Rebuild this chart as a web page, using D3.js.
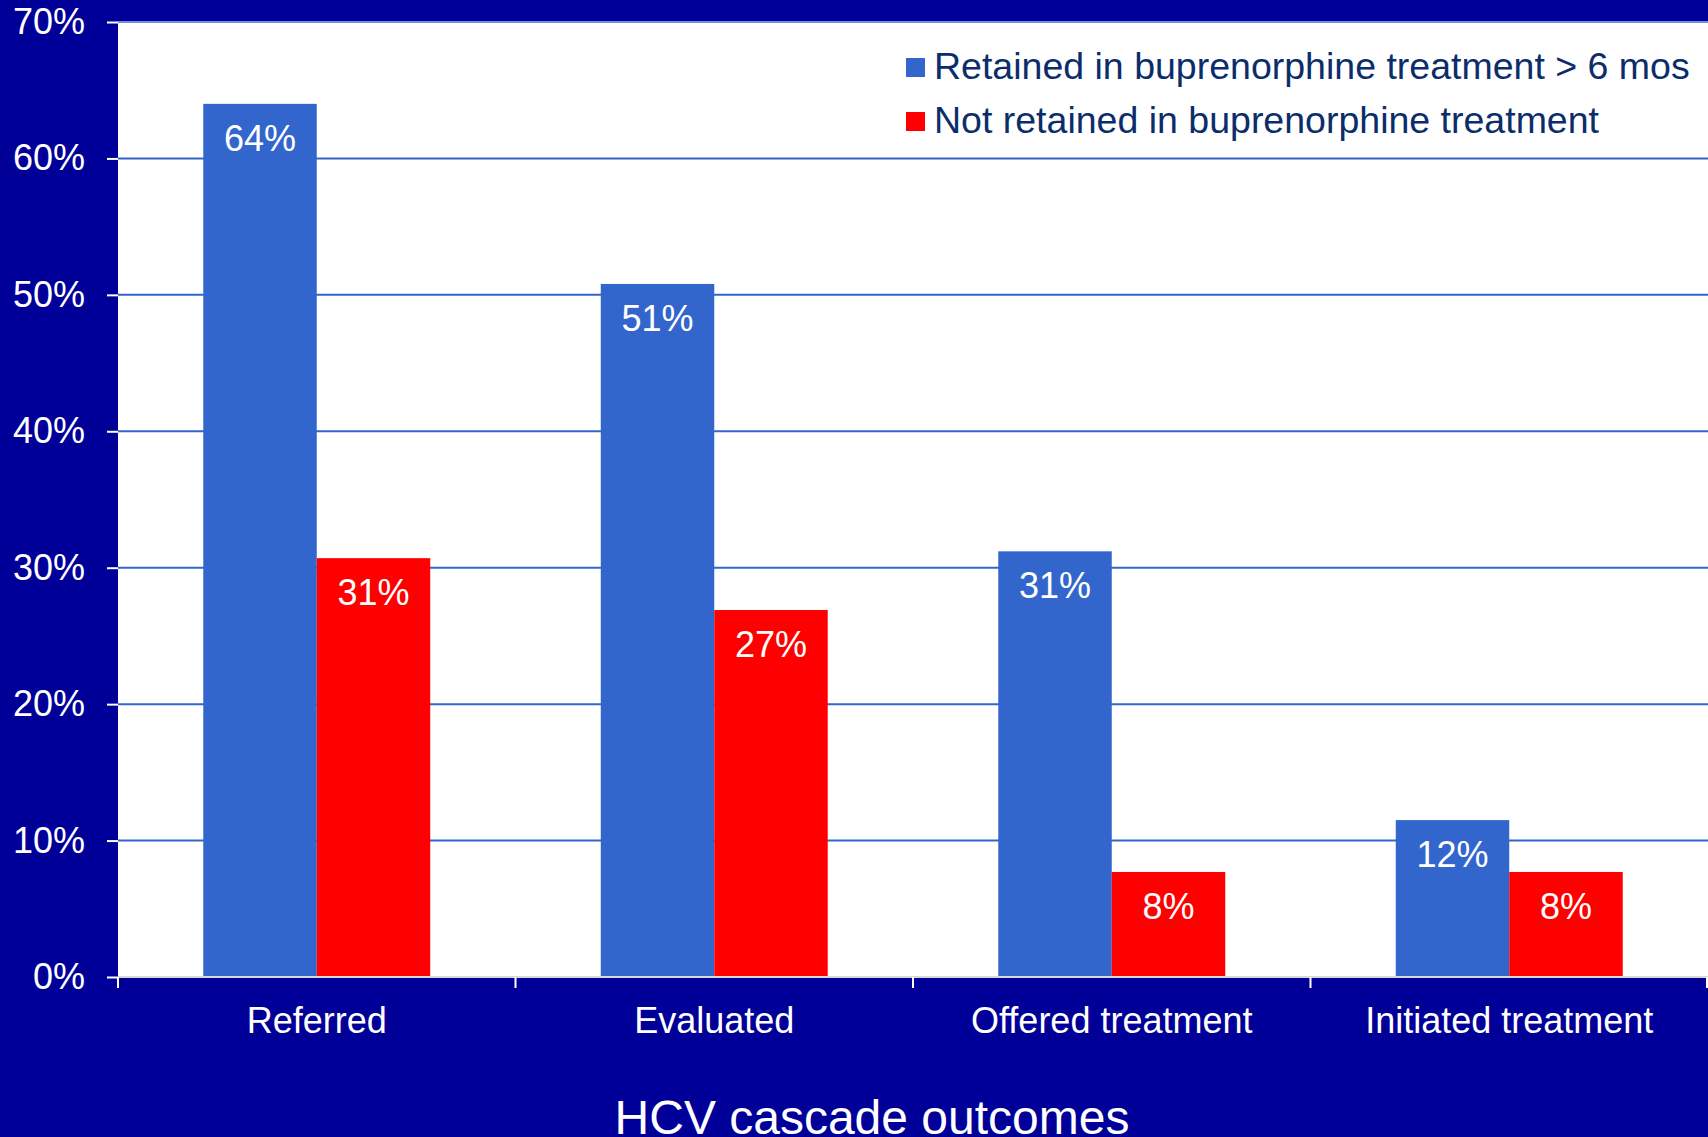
<!DOCTYPE html>
<html>
<head>
<meta charset="utf-8">
<script src="https://cdn.jsdelivr.net/npm/d3@7"></script>
<style>
  body { margin: 0; background: #000099; }
  svg { display: block; font-family: 'Liberation Sans', Arial, sans-serif; }
  .axis text { fill: #fff; font-size: 36px; font-family: 'Liberation Sans', Arial, sans-serif; }
  .axis path { display: none; }
  .axis line { stroke: #fff; stroke-width: 2; }
  .grid line { stroke: #3366cc; stroke-width: 2; }
</style>
</head>
<body>
<svg id="chart_svg"></svg>
<script>
var categories = ['Referred', 'Evaluated', 'Offered treatment', 'Initiated treatment'];
var seriesNames = ['Retained in buprenorphine treatment > 6 mos', 'Not retained in buprenorphine treatment'];
var retained = [64, 50.8, 31.2, 11.5];
var notRetained = [30.7, 26.9, 7.7, 7.7];
var yTicks = [0, 10, 20, 30, 40, 50, 60, 70];
var colors = ['#3366cc', '#ff0000'];

var fullWidth = 1708, fullHeight = 1137;
var margin = {top: 22, right: 0, bottom: 160, left: 118};
var width = fullWidth - margin.left - margin.right;
var height = fullHeight - margin.top - margin.bottom;

var data = categories.map(function(c, i) {
  return {cat: c, values: [retained[i], notRetained[i]]};
});

var svg = d3.select('#chart_svg')
  .attr('width', fullWidth)
  .attr('height', fullHeight);

svg.append('rect')
  .attr('width', fullWidth)
  .attr('height', fullHeight)
  .style('fill', '#000099');

var g = svg.append('g')
  .attr('transform', 'translate(' + margin.left + ',' + margin.top + ')');

var x = d3.scaleBand()
  .domain(categories)
  .range([0, width])
  .padding(0);

var groupWidth = x.bandwidth() * 0.571;

var x1 = d3.scaleBand()
  .domain([0, 1])
  .range([0, groupWidth]);

var y = d3.scaleLinear()
  .domain([0, 70])
  .range([height, 0]);

// plot background
g.append('rect')
  .attr('width', width)
  .attr('height', height)
  .style('fill', '#fff');

// top border
g.append('line')
  .attr('x1', 0)
  .attr('x2', width)
  .attr('y1', y(70))
  .attr('y2', y(70))
  .style('stroke', '#6f8fe0')
  .style('stroke-width', 2);

g.append('g')
  .attr('class', 'grid')
  .selectAll('line')
  .data(yTicks.filter(function(t) { return t > 0 && t < 70; }))
  .enter()
  .append('line')
  .attr('x1', 0)
  .attr('x2', width)
  .attr('y1', function(d) { return y(d); })
  .attr('y2', function(d) { return y(d); });

var groups = g.selectAll('.group')
  .data(data)
  .enter()
  .append('g')
  .attr('class', 'group')
  .attr('transform', function(d) {
    return 'translate(' + (x(d.cat) + (x.bandwidth() - groupWidth) / 2) + ',0)';
  });

groups.selectAll('rect')
  .data(function(d) { return d.values; })
  .enter()
  .append('rect')
  .attr('x', function(d, i) { return x1(i); })
  .attr('y', function(d) { return y(d); })
  .attr('width', x1.bandwidth())
  .attr('height', function(d) { return height - y(d); })
  .style('fill', function(d, i) { return colors[i]; });

groups.selectAll('.val')
  .data(function(d) { return d.values; })
  .enter()
  .append('text')
  .attr('class', 'val')
  .attr('x', function(d, i) { return x1(i) + x1.bandwidth() / 2; })
  .attr('y', function(d) { return y(d) + 47; })
  .style('text-anchor', 'middle')
  .style('fill', '#fff')
  .style('font-size', '36px')
  .text(function(d) { return Math.round(d) + '%'; });

// axes
var yAxis = d3.axisLeft(y)
  .tickValues(yTicks)
  .tickSize(11)
  .tickPadding(22)
  .tickFormat(function(d) { return d + '%'; });

g.append('g')
  .attr('class', 'axis y')
  .call(yAxis);

g.append('line')
  .attr('x1', 0)
  .attr('x2', width)
  .attr('y1', height)
  .attr('y2', height)
  .style('stroke', '#d8d8d8')
  .style('stroke-width', 2);

var xAxisGroup = g.append('g')
  .attr('class', 'axis x')
  .attr('transform', 'translate(0,' + height + ')');

xAxisGroup.selectAll('line')
  .data(categories.concat(['end']))
  .enter()
  .append('line')
  .attr('x1', function(d, i) { return i < categories.length ? x(d) : width - 1; })
  .attr('x2', function(d, i) { return i < categories.length ? x(d) : width - 1; })
  .attr('y1', 0)
  .attr('y2', 11);

xAxisGroup.selectAll('text')
  .data(categories)
  .enter()
  .append('text')
  .attr('x', function(d) { return x(d) + x.bandwidth() / 2; })
  .attr('y', 56)
  .style('text-anchor', 'middle')
  .text(function(d) { return d; });

svg.append('text')
  .attr('x', 872)
  .attr('y', 1134)
  .style('text-anchor', 'middle')
  .style('fill', '#fff')
  .style('font-size', '48px')
  .text('HCV cascade outcomes');

// legend
var legend = svg.append('g')
  .attr('transform', 'translate(906,58)');

var items = legend.selectAll('g')
  .data(seriesNames)
  .enter()
  .append('g')
  .attr('transform', function(d, i) { return 'translate(0,' + (i * 54) + ')'; });

items.append('rect')
  .attr('width', 19)
  .attr('height', 19)
  .style('fill', function(d, i) { return colors[i]; });

items.append('text')
  .attr('x', 28)
  .attr('y', 21)
  .style('fill', '#0b2d6b')
  .style('font-size', '37.5px')
  .text(function(d) { return d; });
</script>
</body>
</html>
